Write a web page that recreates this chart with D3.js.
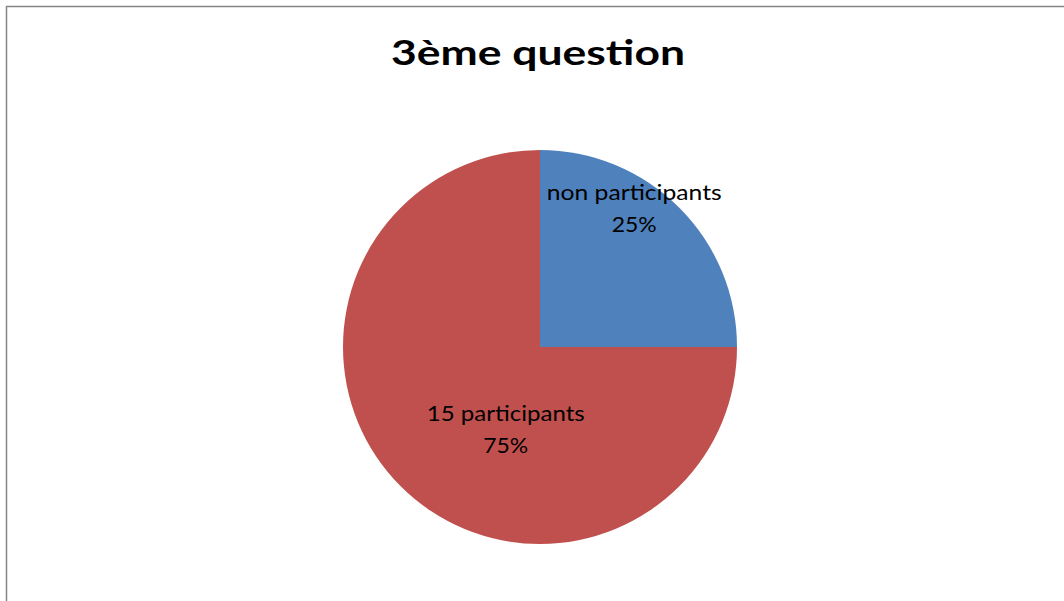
<!DOCTYPE html>
<html><head><meta charset="utf-8">
<script src="https://cdn.jsdelivr.net/npm/d3@7"></script>
<style>html,body{margin:0;padding:0;background:#fff;overflow:hidden}</style>
</head><body>
<svg id="chart" width="1064" height="601"></svg>
<script>
const categories = ["non participants", "15 participants"];
const values = [25, 75];
const percentLabels = ["25%", "75%"];
const colors = ["#4F81BD", "#C0504D"];
const title = "3ème question";

const svg = d3.select("#chart");
svg.append("rect").attr("x", 6.5).attr("y", 6.5).attr("width", 1070).attr("height", 620)
  .attr("fill", "#fff").attr("stroke", "#868686").attr("stroke-width", 1.5);

svg.append("text").attr("x", 538).attr("y", 65).attr("text-anchor", "middle")
  .attr("font-family", "Lato, 'Open Sans', sans-serif").attr("font-weight", "bold")
  .attr("font-size", 35).attr("fill", "#000")
  .attr("textLength", 294).attr("lengthAdjust", "spacingAndGlyphs").text(title);

const cx = 540, cy = 347, r = 197;
const pie = d3.pie().value(d => d).sort(null);
const arcs = pie(values);
const arc = d3.arc().innerRadius(0).outerRadius(r);
const g = svg.append("g").attr("transform", `translate(${cx},${cy})`);
g.selectAll("path").data(arcs).enter().append("path")
  .attr("d", arc).attr("fill", (d, i) => colors[i]);

// label placement (Excel best-fit like): angle offset from slice mid and radius
const labelAngleShift = [-0.16, -0.42];
const labelRadius = [161, 96];
const lineWidths = [[175, 45], [158, 45]];
const lbl = g.selectAll("g.lbl").data(arcs).enter().append("g").attr("class", "lbl")
  .attr("transform", (d, i) => {
    const a = (d.startAngle + d.endAngle) / 2 + labelAngleShift[i];
    const la = d3.arc().innerRadius(labelRadius[i]).outerRadius(labelRadius[i]).startAngle(a).endAngle(a);
    const c = la.centroid();
    return `translate(${c[0]},${c[1]})`;
  });
lbl.append("text").attr("text-anchor", "middle").attr("y", -16)
  .attr("font-family", "Lato, 'Open Sans', sans-serif").attr("font-size", 22).attr("fill", "#000")
  .attr("textLength", (d, i) => lineWidths[i][0]).attr("lengthAdjust", "spacingAndGlyphs")
  .text((d, i) => categories[i]);
lbl.append("text").attr("text-anchor", "middle").attr("y", 16)
  .attr("font-family", "Lato, 'Open Sans', sans-serif").attr("font-size", 22).attr("fill", "#000")
  .attr("textLength", (d, i) => lineWidths[i][1]).attr("lengthAdjust", "spacingAndGlyphs")
  .text((d, i) => percentLabels[i]);
</script>
</body></html>
